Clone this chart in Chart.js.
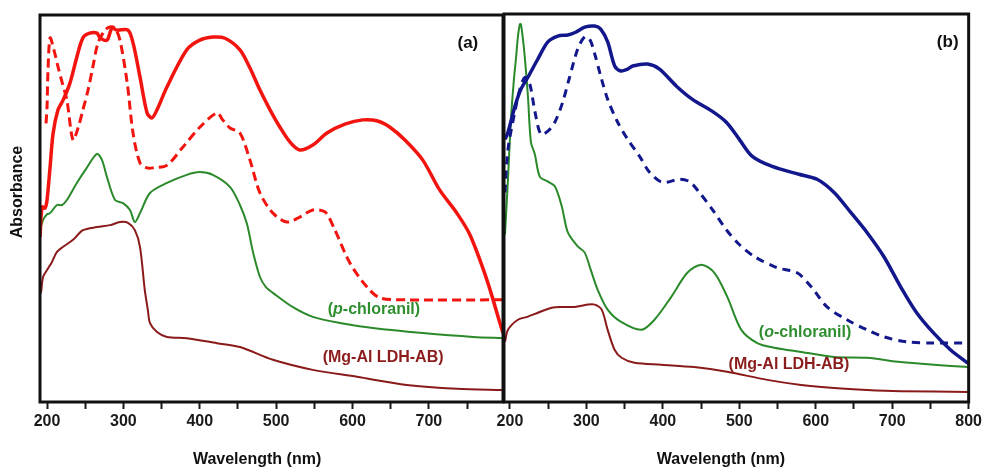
<!DOCTYPE html>
<html>
<head>
<meta charset="utf-8">
<script src="https://cdn.jsdelivr.net/npm/chart.js@4/dist/chart.umd.min.js"></script>
<style>
  body { margin: 0; background: #fff; }
  #wrap { position: relative; width: 985px; height: 471px; background: #fff; }
  canvas { position: absolute; top: 0; }
  #chartA { left: 0; }
  #chartB { left: 480px; }
</style>
</head>
<body>
<div id="wrap">
  <canvas id="chartA" width="505" height="471"></canvas>
  <canvas id="chartB" width="505" height="471"></canvas>
</div>
<script>
// Panel (a): p-chloranil system, wavelength (nm) / absorbance (arb. units)
const aRedSolidNm = [190.8,193.5,197.4,200,204,208,214.4,221,230,239,247,256,265.4,269.4,278.5,285,291.6,306,312.6,321.7,331,337.4,344,357,383,400,417,433,452.6,465.7,478.8,492,505,518,531,548,566.5,590,613.6,633,649,668.6,692,714,736.6,753.7,776,793,797];
const aRedSolidAbs = [42.6,50.4,50.1,52.2,60.7,69.5,75.5,78,82.4,89.1,94.1,95.3,95.3,94.1,93.5,96.6,96.1,96.1,92.8,84,74.7,73.4,75.5,81.4,91,93.5,94.3,94,91,86.3,80.6,75.5,71,67.2,65.1,66.4,69.5,71.8,72.9,72.6,71,67.7,62.5,54.8,48.8,43.2,31.5,20.4,17.8];

const aRedDashNm = [198.7,200,201.3,204,209,214.4,219.6,226,234,240.6,247,253.7,260,266.8,276,282.5,289,295.5,305,312.6,321.7,331,338.7,357,378,400,422.5,430,439.5,452.6,465.7,478.8,495.8,514,531,548,564,577,596.6,619,636,671,797];
const aRedDashAbs = [72,76.2,85.8,94.1,91,86.6,82.7,78,67.7,70.8,75.5,80.6,86.6,92.8,96.1,96.9,96.6,93.5,82.4,69.5,61.8,60.5,60.5,61.2,65.9,71,74.7,72.9,70.8,69.5,62.5,54,48.8,46.5,47.8,49.6,49.1,44.4,35.9,29.7,26.9,26.4,26.4];

const aGreenNm = [190.8,194.8,200,204,213,219.6,226,239,252,265.4,272,278.5,289,299.5,308.6,315,321.7,334.8,357,383,400,417,439.5,452.6,461.8,469.6,478.8,486.6,495.8,522,548,583.5,626.7,692,757.6,797];
const aGreenAbs = [44.4,47,48.5,48.8,50.9,50.9,52.2,56.6,60.5,64.1,62.5,58.1,52.2,51.4,49.6,46.5,48.8,54,56.6,58.7,59.4,58.7,55.6,50.9,46,38.8,32.3,29.7,28.2,24.5,22,20.4,19.1,17.8,16.8,16.5];

const aMaroonNm = [190.8,192,194.8,200,206.5,213,221,234,247,265.4,282.5,295.5,306,315,321.7,328,332,334.8,344,357,383,422.5,452.6,495.8,548,605.8,671,736.6,797];
const aMaroonAbs = [31.5,28.2,32.3,34.1,36.2,38.8,40.1,41.9,44.4,45.2,45.7,46.5,46.3,44.4,40.1,28.9,23.8,20.4,18.1,16.8,16.5,15.2,14.2,10.9,8.3,6.5,4.4,3.4,3.1];

// Panel (b): o-chloranil system
const bBlueSolidNm = [193.5,197.4,206.5,214.3,223.5,236.5,249.6,262.6,275.7,286,297.8,310.9,318.7,327.8,337,344.8,354,360.4,380,395.6,417.8,438.7,464.8,483,500,517,543,578,601.7,624,646,667,689,711,732,754,776.5,797,800];
const bBlueSolidAbs = [67.7,69.5,76.2,80.6,83.7,88.4,92.8,94.3,94.6,95.3,96.6,96.9,96.1,92.8,86.6,85.3,85.8,86.6,87.1,85.8,81.4,78,74.9,72.1,67.7,63.3,60.7,58.7,57.4,54,48.8,43.7,37.5,29.7,23,17.8,13.4,10.3,10];

const bBlueDashNm = [193.5,197.4,206.5,213,219.6,226,232.6,240.4,249.6,258.7,269,278,288.7,297.8,304.3,310.9,318.7,327.8,340.9,354,369.6,382.6,399.6,421.7,434.8,447.8,464.8,483,500,519.6,549.6,575.6,594,614.8,640.9,667,689,719,754,800];
const bBlueDashAbs = [54,65.1,74.9,80.6,83.7,81.9,74.9,69,69.8,72.1,77.3,83.7,91,94.1,93.5,89.7,84,78,72.1,67.7,63.3,59.2,56.6,57.4,56.8,54,49.6,44.4,40.6,37.5,34.6,33.3,29.7,24.5,21.2,18.6,16.8,15.5,15.2,15.2];

const bGreenNm = [193.5,197.4,201.3,205.2,207.8,210.4,213,214.3,217,219.6,223.5,227.4,232.6,239,249.6,258.7,267.8,275.7,288.7,297.8,305.6,314.8,327.8,344.8,372,389,411,432,450.4,467.4,484.3,502.6,523.5,545.6,580.9,624,667,711,754,800];
const bGreenAbs = [43.2,57.4,72.9,83.2,88.4,94.1,97.4,97.4,93.5,88.4,78.8,67,63.8,58.1,56.8,55.6,50.4,43.7,40.1,38.5,34.1,28.9,23.8,20.7,18.6,21.2,27.1,33.3,35.4,33.3,27.1,18.6,15.2,14,12.9,11.6,11.4,10.3,9.6,9];

const bMaroonNm = [193.5,197.4,210.4,223.5,236.5,254.8,267.8,284.8,301.7,310.9,320,327.8,337,346,363,398,441,484,536.5,581,624,667,711,800];
const bMaroonAbs = [15.5,18.6,21.2,22,23,24.3,24.5,24.5,25.1,25.1,23.8,18.6,13.4,11.4,10.1,9.6,9,7.8,5.7,4.4,3.6,3.1,2.8,2.6];

const xTickStep = 50;

const FONT = '"Liberation Sans", Arial, sans-serif';
const RED = '#f2140f';
const GREEN = '#2a8a2a';
const MAROON = '#8a1a1a';
const BLUE = '#12188c';

function series(nm, abs) {
  return nm.map((x, i) => ({ x: x, y: abs[i] }));
}

function line(nm, abs, color, width, dash) {
  return {
    data: series(nm, abs),
    borderColor: color,
    borderWidth: width,
    borderDash: dash || [],
    pointRadius: 0,
    fill: false,
    tension: 0.3
  };
}

// frame, axis titles and free text labels
const decorPlugin = {
  id: 'decor',
  afterDraw(chart, args, opts) {
    const ctx = chart.ctx;
    const a = chart.chartArea;
    const sx = chart.scales.x, sy = chart.scales.y;
    ctx.save();
    ctx.strokeStyle = '#111';
    ctx.lineWidth = 3;
    ctx.strokeRect(a.left, a.top, a.right - a.left, a.bottom - a.top);

    (opts.labels || []).forEach(lb => {
      const cx = sx.getPixelForValue(lb.x);
      const cy = lb.py !== undefined ? lb.py : sy.getPixelForValue(lb.y);
      const size = lb.size || 16;
      let total = 0;
      lb.parts.forEach(p => {
        ctx.font = (p[1] ? 'italic ' : '') + 'bold ' + size + 'px ' + FONT;
        total += ctx.measureText(p[0]).width;
      });
      let x = cx - total / 2;
      ctx.fillStyle = lb.color;
      ctx.textBaseline = 'middle';
      ctx.textAlign = 'left';
      lb.parts.forEach(p => {
        ctx.font = (p[1] ? 'italic ' : '') + 'bold ' + size + 'px ' + FONT;
        ctx.fillText(p[0], x, cy);
        x += ctx.measureText(p[0]).width;
      });
    });

    if (opts.yTitle) {
      ctx.translate(opts.yTitle.x, opts.yTitle.y);
      ctx.rotate(-Math.PI / 2);
      ctx.font = 'bold 16px ' + FONT;
      ctx.fillStyle = '#111';
      ctx.textAlign = 'center';
      ctx.textBaseline = 'middle';
      ctx.fillText(opts.yTitle.text, 0, 0);
    }
    ctx.restore();
  }
};

function makeChart(id, cfg) {
  return new Chart(document.getElementById(id), {
    type: 'line',
    data: { datasets: cfg.datasets },
    options: {
      responsive: false,
      animation: false,
      devicePixelRatio: 1,
      layout: { padding: { top: cfg.top, right: cfg.right, left: 0, bottom: 0 } },
      plugins: {
        legend: { display: false },
        tooltip: { enabled: false },
        decor: { labels: cfg.labels, yTitle: cfg.yTitle }
      },
      scales: {
        x: {
          type: 'linear',
          min: cfg.xMin,
          max: cfg.xMax,
          afterFit(s) { s.height = 69; },
          ticks: {
            stepSize: xTickStep,
            includeBounds: false,
            maxTicksLimit: 30,
            autoSkip: false,
            maxRotation: 0,
            padding: 3,
            color: '#1a1a1a',
            font: { family: FONT, size: 16, weight: 'bold' },
            callback: v => (v % 100 === 0 ? String(v) : '')
          },
          grid: { drawOnChartArea: false, drawTicks: true, tickLength: 7, tickWidth: 2, tickColor: '#1a1a1a' },
          border: { display: false },
          title: { display: false }
        },
        y: {
          min: 0,
          max: 100,
          afterFit(s) { s.width = cfg.yWidth; },
          ticks: { display: false },
          grid: { display: false },
          border: { display: false }
        }
      }
    },
    plugins: [decorPlugin]
  });
}

makeChart('chartA', {
  xMin: 190.8, xMax: 797, top: 15, right: 2, yWidth: 40,
  datasets: [
    line(aRedSolidNm, aRedSolidAbs, RED, 3.5),
    line(aRedDashNm, aRedDashAbs, RED, 3, [9, 5]),
    line(aGreenNm, aGreenAbs, GREEN, 2),
    line(aMaroonNm, aMaroonAbs, MAROON, 2)
  ],
  labels: [
    { x: 751, y: 92.8, size: 17, color: '#111', parts: [['(a)', false]] },
    { x: 628, y: 23.8, color: '#2f8f2f', parts: [['(', false], ['p', true], ['-chloranil)', false]] },
    { x: 640, y: 11.4, color: '#8b1c1c', parts: [['(Mg-Al LDH-AB)', false]] },
    { x: 475, py: 460, color: '#111', parts: [['Wavelength (nm)', false]] }
  ],
  yTitle: { text: 'Absorbance', x: 18, y: 192 }
});

makeChart('chartB', {
  xMin: 192.2, xMax: 800, top: 14, right: 15, yWidth: 24,
  datasets: [
    line(bBlueSolidNm, bBlueSolidAbs, BLUE, 3.5),
    line(bBlueDashNm, bBlueDashAbs, BLUE, 3, [8, 6]),
    line(bGreenNm, bGreenAbs, GREEN, 2),
    line(bMaroonNm, bMaroonAbs, MAROON, 2)
  ],
  labels: [
    { x: 772.6, y: 92.8, size: 17, color: '#111', parts: [['(b)', false]] },
    { x: 586, y: 17.8, color: '#2f8f2f', parts: [['(', false], ['o', true], ['-chloranil)', false]] },
    { x: 565, y: 9.6, color: '#8b1c1c', parts: [['(Mg-Al LDH-AB)', false]] },
    { x: 476, py: 460, color: '#111', parts: [['Wavelength (nm)', false]] }
  ]
});
</script>
</body>
</html>
